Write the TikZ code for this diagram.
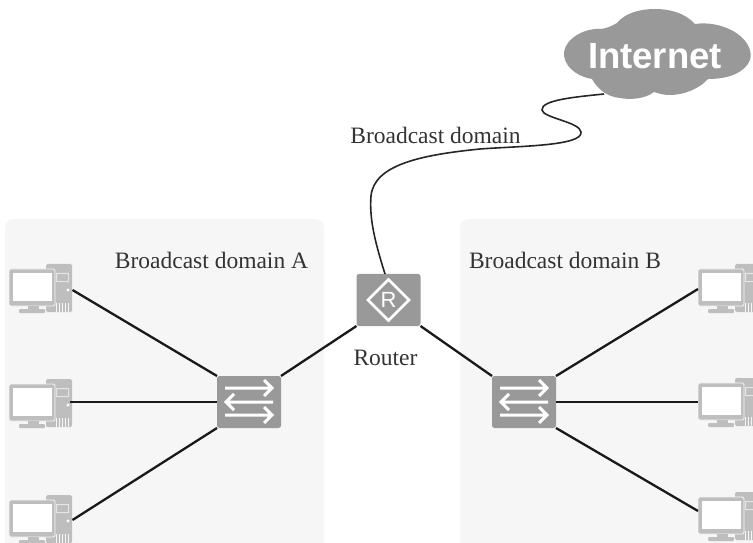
\documentclass[tikz,border=0pt]{standalone}
\usepackage{fontspec}
\setmainfont{Liberation Serif}
\newfontfamily\arialfont{Liberation Sans}
\usetikzlibrary{calc}
\definecolor{panelgray}{HTML}{F6F6F6}
\definecolor{devgray}{HTML}{999999}
\definecolor{pcgray}{HTML}{BEBEBE}
\definecolor{inkgray}{HTML}{333333}
\tikzset{
  x=1bp,y=-1bp,
  panel/.style={fill=panelgray,rounded corners=8bp},
  device/.style={fill=devgray,rounded corners=2.5bp,minimum width=64bp,minimum height=52bp,inner sep=0pt,outer sep=0pt},
  lbl/.style={text=inkgray,font=\fontsize{23.5bp}{26bp}\selectfont,inner sep=0pt},
  link/.style={draw=black!90,line width=2.3bp},
  cable/.style={draw=black!85,line width=1.6bp},
  glyph/.style={draw=white,line width=3bp},
  pc/.pic={
    \fill[pcgray,rounded corners=1.5bp] (37,-5) rectangle (63,43);
    \fill[panelgray!70!pcgray] (47,4) rectangle (60,5) (47,12) rectangle (60,13) (47,4) rectangle (48,13) (59,4) rectangle (60,13);
    \fill[white] (59,21) circle (1.6);
    \foreach \vx in {47,50,53,56,59}{\fill[panelgray] (\vx,34) rectangle (\vx+1,43);}
    \fill[pcgray,draw=panelgray,line width=.8bp,rounded corners=1.5bp] (0,0) rectangle (46,37);
    \fill[white] (4,4) rectangle (43,32);
    \fill[pcgray] (19,37) rectangle (30,40);
    \fill[pcgray,rounded corners=1bp] (10,40) rectangle (36,44);
  },
}
\newcommand{\swglyph}[1]{%
  \begin{scope}[shift={(#1)},line join=miter]
    \draw[glyph] (-24,-14) -- (22,-14) (15,-22) -- (23,-14) -- (15,-6);
    \draw[glyph] (24,0) -- (-22,0) (-15,-8) -- (-23,0) -- (-15,8);
    \draw[glyph] (-24,13) -- (22,13) (15,5) -- (23,13) -- (15,21);
  \end{scope}}
\begin{document}
\begin{tikzpicture}
\useasboundingbox (0,0) rectangle (753,543);
\begin{scope}
\clip (0,0) rectangle (753,543);
\fill[panel] (5,560) -- (5,219) -- (324,219) -- (324,560);
\fill[panel] (460,560) -- (460,219) -- (790,219) -- (790,560);

\pic at (9,269) {pc};
\pic at (9,384) {pc};
\pic at (9,500) {pc};
\pic at (698,269) {pc};
\pic at (698,383) {pc};
\pic at (698,497) {pc};
\end{scope}

\coordinate (pcA) at (72.5,290);
\coordinate (pcB) at (70,402);
\coordinate (pcC) at (72.5,520);
\coordinate (pcD) at (698,289);
\coordinate (pcE) at (698,402);
\coordinate (pcF) at (698,511);
\coordinate (cloudfoot) at (604,94);

\node[device] (swA) at (249,402) {};
\node[device] (swB) at (524,402) {};
\node[device] (router) at (388.5,300) {};
\swglyph{swA.center}
\swglyph{swB.center}
\draw[draw=white,line width=2.8bp,line join=miter] ($(router.center)+(0,-20.5)$) -- ++(20.5,20.5) -- ++(-20.5,20.5) -- ++(-20.5,-20.5) -- cycle;
\node[text=white,font=\arialfont\fontsize{22bp}{24bp}\selectfont,inner sep=0pt] (routerR) at (router.center) {R};

\draw[link] (pcA) -- (swA.north west);
\draw[link] (pcB) -- (swA.west);
\draw[link] (pcC) -- (swA.south west);
\draw[link] (swA.north east) -- (router.south west);
\draw[link] (router.south east) -- (swB.north west);
\draw[link] (swB.north east) -- (pcD);
\draw[link] (swB.east) -- (pcE);
\draw[link] (swB.south east) -- (pcF);

\draw[cable] (router.north) ++(-3.5,0) coordinate (routertop)
  .. controls (376,245) and (369,220) .. (371,196)
  .. controls (374,165) and (420,155) .. (480,149)
  .. controls (520,146) and (583,146) .. (581,132)
  .. controls (580,122) and (543,118) .. (542,110)
  .. controls (541,100) and (575,97) .. (cloudfoot);

\fill[devgray] (564,52)
  .. controls (566,38) and (585,28) .. (600,29)
  .. controls (605,29) and (612,26) .. (617,23)
  .. controls (625,13) and (640,9) .. (655,9)
  .. controls (670,9) and (685,13) .. (695,24)
  .. controls (708,22) and (722,25) .. (733,31)
  .. controls (746,38) and (753,50) .. (750,60)
  .. controls (745,72) and (730,79) .. (708,79)
  .. controls (700,88) and (685,95) .. (670,95)
  .. controls (662,95) and (658,93) .. (654,92)
  .. controls (645,99) and (630,100) .. (620,98)
  .. controls (608,97) and (598,90) .. (592,79)
  .. controls (575,76) and (563,65) .. (564,52) -- cycle;
\node[text=white,font=\arialfont\bfseries\fontsize{36.5bp}{38bp}\selectfont,inner sep=0pt] (internet) at (655,56) {Internet};

\node[lbl] (bdtop) at (435.5,135) {Broadcast domain};
\node[lbl] (bdA) at (211.5,260) {Broadcast domain A};
\node[lbl] (bdB) at (565,260) {Broadcast domain B};
\node[lbl] (routerlbl) at (385.5,357.5) {Router};
\end{tikzpicture}
\end{document}
